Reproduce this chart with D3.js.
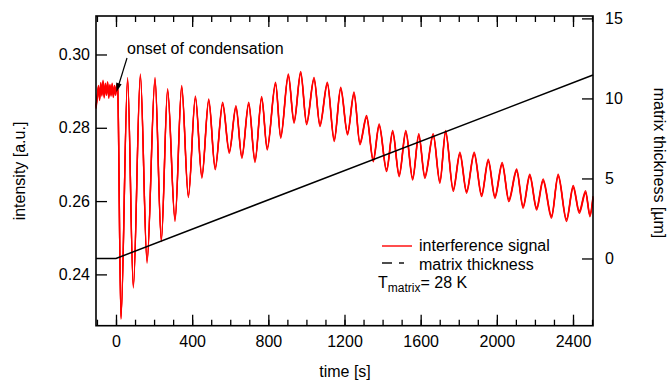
<!DOCTYPE html>
<html>
<head>
<meta charset="utf-8">
<script src="https://cdn.jsdelivr.net/npm/d3@7"></script>
<style>
  body { margin: 0; background: #fff; }
  svg { font-family: "Liberation Sans", Arial, sans-serif; font-size: 16px; }
</style>
</head>
<body>
<svg width="668" height="384"></svg>
<script>
// interference signal (peaks and troughs)
var sigTime = [-105, -98, -92, -86, -80, -74, -68, -62, -56, -50, -44, -38, -32, -26, -20, -14, -8, -2, 4, 9,
  26, 61, 91, 128, 163, 205, 238, 271, 310, 345, 380, 417, 451, 487, 521, 560, 595, 630, 661, 697,
  730, 765, 794, 838, 865, 905, 935, 970, 1001, 1040, 1071, 1110, 1146, 1180, 1216, 1250, 1281, 1316,
  1351, 1382, 1421, 1453, 1487, 1522, 1558, 1590, 1622, 1666, 1701, 1731, 1771, 1806, 1841, 1881,
  1920, 1955, 1990, 2028, 2063, 2104, 2138, 2173, 2209, 2243, 2287, 2322, 2366, 2401, 2433, 2466, 2489, 2505];
var sigValue = [0.2856, 0.2885, 0.2912, 0.2878, 0.2920, 0.2890, 0.2926, 0.2885, 0.2918, 0.2892, 0.2922, 0.2884, 0.2915, 0.2890, 0.2918, 0.2886, 0.2912, 0.2892, 0.2915, 0.2905,
  0.2281, 0.2934, 0.2366, 0.2943, 0.2434, 0.2934, 0.2493, 0.2903, 0.2548, 0.2912, 0.2613, 0.2883, 0.2666, 0.2875, 0.2689, 0.2866, 0.2734, 0.2857, 0.2720, 0.2866,
  0.2709, 0.2882, 0.2743, 0.2921, 0.2775, 0.2943, 0.2816, 0.2950, 0.2812, 0.2934, 0.2807, 0.2921, 0.2766, 0.2907, 0.2784, 0.2894, 0.2757, 0.2830,
  0.2711, 0.2807, 0.2684, 0.2789, 0.2670, 0.2789, 0.2661, 0.2780, 0.2666, 0.2780, 0.2652, 0.2789, 0.2630, 0.2730, 0.2625, 0.2730,
  0.2616, 0.2711, 0.2611, 0.2702, 0.2602, 0.2684, 0.2584, 0.2670, 0.2579, 0.2657, 0.2557, 0.2670, 0.2548, 0.2639, 0.2570, 0.2625, 0.2561, 0.2610];

// matrix thickness
var thickTime = [-105, 0, 2505];
var thickness = [0, 0, 11.46];

var xMajor = [0, 400, 800, 1200, 1600, 2000, 2400];
var xMinor = d3.range(-100, 2501, 100);
var yLeftTicks = [0.24, 0.26, 0.28, 0.30];
var yRightTicks = [0, 5, 10, 15];

var svg = d3.select("svg");
var L = 96, R = 593, T = 16, B = 325.7;

var x = d3.scaleLinear().domain([-105, 2505]).range([L, R]);
var yL = d3.scaleLinear().domain([0.226, 0.3105]).range([B, T]);
var yR = d3.scaleLinear().domain([-4.2, 15.15]).range([B, T]);

var sig = sigTime.map((t, i) => [t, sigValue[i]]);
var thick = thickTime.map((t, i) => [t, thickness[i]]);

var sigLine = d3.line().x(d => x(d[0])).y(d => yL(d[1])).curve(d3.curveMonotoneX);
var thickLine = d3.line().x(d => x(d[0])).y(d => yR(d[1]));

// signal drawn as a thin band to look like the noisy trace
[-1.3, 0, 1.3].forEach(function(o) {
  svg.append("path")
    .attr("d", sigLine(sig))
    .attr("transform", "translate(0," + o + ")")
    .attr("fill", "none")
    .attr("stroke", "#ff0000")
    .attr("stroke-width", 1.4)
    .attr("stroke-linejoin", "round");
});

svg.append("path")
  .attr("d", thickLine(thick))
  .attr("fill", "none")
  .attr("stroke", "#000")
  .attr("stroke-width", 1.5);

// axes
function clean(g) {
  g.select(".domain").remove();
  g.selectAll("line").attr("stroke", "#000").attr("stroke-width", 1.3);
  g.selectAll("text").attr("fill", "#000").style("font-size", "16px")
    .style("font-family", "'Liberation Sans', Arial, sans-serif");
}

svg.append("g").attr("transform", "translate(0," + B + ")")
  .call(d3.axisBottom(x).tickValues(xMinor).tickSize(-6).tickFormat("")).call(clean);
svg.append("g").attr("transform", "translate(0," + B + ")")
  .call(d3.axisBottom(x).tickValues(xMajor).tickSize(-11).tickPadding(10).tickFormat(d3.format("d"))).call(clean);
svg.append("g").attr("transform", "translate(0," + T + ")")
  .call(d3.axisTop(x).tickValues(xMinor).tickSize(-6).tickFormat("")).call(clean);
svg.append("g").attr("transform", "translate(0," + T + ")")
  .call(d3.axisTop(x).tickValues(xMajor).tickSize(-11).tickFormat("")).call(clean);
svg.append("g").attr("transform", "translate(" + L + ",0)")
  .call(d3.axisLeft(yL).tickValues(yLeftTicks).tickSize(-11).tickPadding(6).tickFormat(d3.format(".2f"))).call(clean);
svg.append("g").attr("transform", "translate(" + R + ",0)")
  .call(d3.axisRight(yR).tickValues(yRightTicks).tickSize(-11).tickPadding(12).tickFormat(d3.format("d"))).call(clean);

// frame
svg.append("rect")
  .attr("x", L).attr("y", T).attr("width", R - L).attr("height", B - T)
  .attr("fill", "none").attr("stroke", "#000").attr("stroke-width", 1.6);

// axis titles
svg.append("text").attr("x", 345).attr("y", 377).attr("text-anchor", "middle").text("time [s]");
svg.append("text").attr("transform", "translate(25,171) rotate(-90)").attr("text-anchor", "middle").text("intensity [a.u.]");
svg.append("text").attr("transform", "translate(654,163) rotate(90)").attr("text-anchor", "middle").text("matrix thickness [\u00b5m]");

// annotation
svg.append("text").attr("x", 127).attr("y", 54).text("onset of condensation");
svg.append("line").attr("x1", 127).attr("y1", 58).attr("x2", 119).attr("y2", 84)
  .attr("stroke", "#000").attr("stroke-width", 1.2);
svg.append("path").attr("d", "M116.5,92 L116.2,82.5 L121.6,84.2 Z").attr("fill", "#000");

// legend
svg.append("line").attr("x1", 382).attr("x2", 412).attr("y1", 246).attr("y2", 246)
  .attr("stroke", "#ff0000").attr("stroke-width", 1.4);
svg.append("text").attr("x", 419).attr("y", 251).text("interference signal");
svg.append("line").attr("x1", 382).attr("x2", 392).attr("y1", 263).attr("y2", 263)
  .attr("stroke", "#000").attr("stroke-width", 1.4);
svg.append("line").attr("x1", 399).attr("x2", 404).attr("y1", 263).attr("y2", 263)
  .attr("stroke", "#000").attr("stroke-width", 1.4);
svg.append("text").attr("x", 419).attr("y", 270).text("matrix thickness");
var tm = svg.append("text").attr("x", 378).attr("y", 288);
tm.append("tspan").text("T");
tm.append("tspan").attr("dy", 4).style("font-size", "12px").text("matrix");
tm.append("tspan").attr("dy", -4).text("= 28 K");
</script>
</body>
</html>
